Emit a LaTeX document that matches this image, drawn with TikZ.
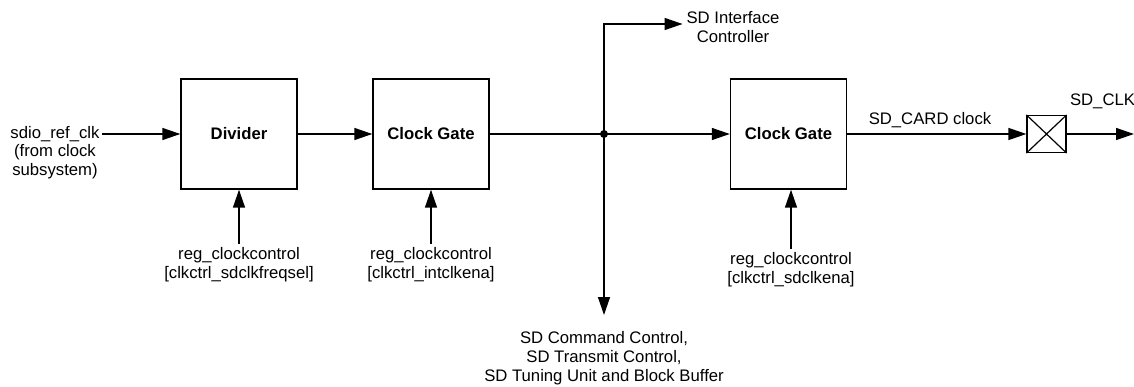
\documentclass[tikz,border=0pt]{standalone}
\usepackage{fontspec}
\setmainfont{Liberation Sans}
\usetikzlibrary{arrows.meta}

\begin{document}
\begin{tikzpicture}[x=1pt, y=-1pt, line width=1.4pt,
    >={Triangle[length=18pt, width=12pt]},
    every node/.style={font=\fontsize{16.7}{19}\selectfont, align=center},
    block/.style={draw, minimum width=116pt, minimum height=110pt, inner sep=0pt,
        font=\fontsize{16.7}{19}\selectfont\bfseries}]
    \useasboundingbox (0,0) rectangle (1134,387);

    % blocks on the clock path
    \node[block] (div) at (239,134) {Divider};
    \node[block] (gate1) at (431,134) {Clock Gate};
    \node[block] (gate2) at (788.5,134) {Clock Gate};
    \node[draw, line width=1.2pt, minimum width=39pt, minimum height=37pt, inner sep=0pt] (pad) at (1046.5,134) {};
    \draw[line width=1.2pt] (pad.north west) -- (pad.south east) (pad.north east) -- (pad.south west);

    % input clock
    \node[inner sep=2pt] (refclk) at (55,134) {sdio\_ref\_clk};
    \node (refsrc) at (55,162) {(from clock\\subsystem)};
    \draw[->] (refclk) -- (div);
    \draw[->] (div) -- (gate1);

    % branch point
    \coordinate (junc) at (604,134);
    \coordinate (top) at (604,24);
    \coordinate (busend) at (604,315);
    \fill (junc) circle (4pt);
    \draw (gate1) -- (junc);
    \draw[->] (junc) -- (gate2);

    \node (sdif) at (733,27) {SD Interface\\Controller};
    \draw[->] (junc) -- (top) -- (top -| sdif.west);

    \node (sdctl) at (604,358) {SD Command Control,\\SD Transmit Control,\\SD Tuning Unit and Block Buffer};
    \draw[->] (junc) -- (busend);

    % output clock
    \node (cardclk) at (930,120) {SD\_CARD clock};
    \draw[->] (gate2) -- (pad);
    \coordinate (out) at (1134,134);
    \draw[->] (pad) -- (out);
    \node[anchor=west] (sdclk) at (1066,101) {SD\_CLK};

    % register controls
    \node (ctl1) at (239,265) {reg\_clockcontrol\\{[clkctrl\_sdclkfreqsel]}};
    \node (ctl2) at (431,265) {reg\_clockcontrol\\{[clkctrl\_intclkena]}};
    \node (ctl3) at (791,270) {reg\_clockcontrol\\{[clkctrl\_sdclkena]}};
    \draw[->] (ctl1.north) -- (div.south);
    \draw[->] (ctl2.north) -- (gate1.south);
    \draw[->] (ctl3.north) -- (ctl3.north |- gate2.south);
\end{tikzpicture}
\end{document}
